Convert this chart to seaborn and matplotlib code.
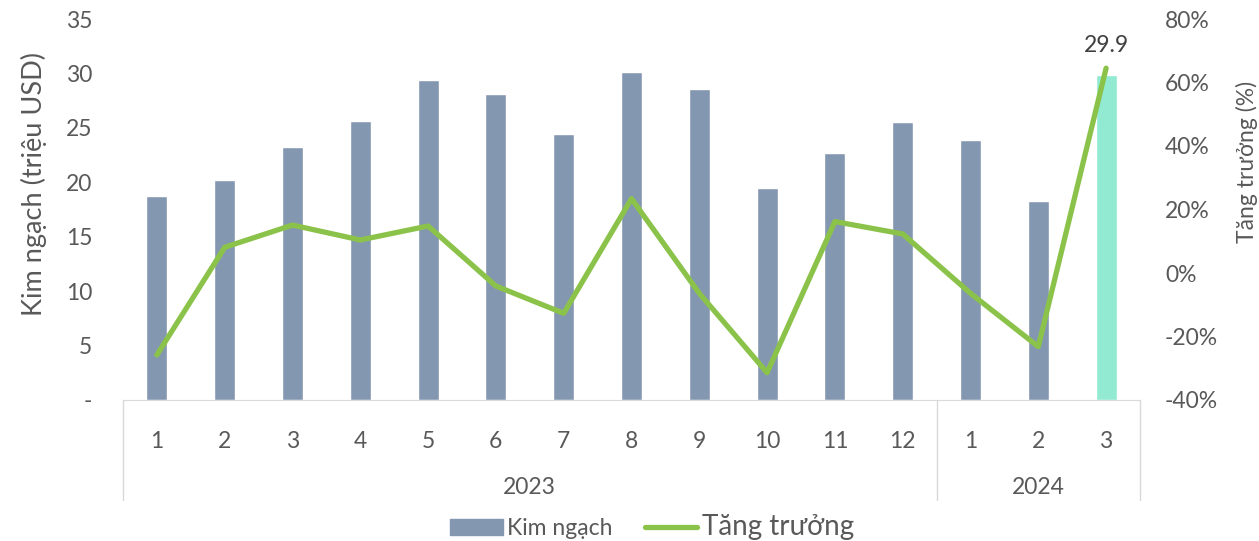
import numpy as np
import pandas as pd
import seaborn as sns
import matplotlib.pyplot as plt
from matplotlib.patches import Patch
from matplotlib.lines import Line2D

# monthly values
months = ["1", "2", "3", "4", "5", "6", "7", "8", "9", "10", "11", "12", "1", "2", "3"]
years = ["2023", "2024"]
kim_ngach = [18.7, 20.2, 23.2, 25.6, 29.4, 28.1, 24.4, 30.1, 28.6, 19.5, 22.7, 25.5, 23.9, 18.3, 29.9]
tang_truong = [-25.8, 8.1, 15.1, 10.4, 14.8, -4.1, -12.7, 23.4, -6.4, -31.4, 16.2, 12.3, -6.4, -23.2, 64.5]

bar_col = "#8497B0"
last_col = "#92EAD2"
line_col = "#8BC34A"
txt_col = "#595959"

sns.set_style("white")
plt.rcParams['font.family'] = ['Lato', 'DejaVu Sans']

df = pd.DataFrame({"idx": np.arange(len(months)), "kn": kim_ngach, "tt": tang_truong})
colors = [bar_col] * (len(months) - 1) + [last_col]

fig = plt.figure(figsize=(12.59, 5.41), dpi=100)
ax = fig.add_axes([123/1259, 1 - 400/541, (1140-123)/1259, (400-19)/541])
sns.barplot(data=df, x="idx", y="kn", hue="idx", palette=colors, width=0.31,
            legend=False, saturation=1, ax=ax)
ax.set_ylim(0, 35)
ax.set_xlim(-0.5, 14.5)
ax.set_yticks(np.arange(0, 36, 5))
ax.set_yticklabels(["-"] + [str(v) for v in range(5, 36, 5)])
ax.set_xticks(df.idx)
ax.set_xticklabels(months)
ax.tick_params(axis="both", length=0, labelsize=16.5, colors=txt_col)
ax.tick_params(axis="x", pad=22)
ax.tick_params(axis="y", pad=22)
ax.set_xlabel("")
ax.set_ylabel("Kim ngạch (triệu USD)", fontsize=19.5, color=txt_col)
ax.yaxis.set_label_coords(-0.075, 0.567)
for s in ["top", "right", "left"]:
    ax.spines[s].set_visible(False)
ax.spines["bottom"].set_color("#D9D9D9")

# year group lines and labels
tr = ax.get_xaxis_transform()
for xv in [-0.5, 11.5, 14.5]:
    ax.plot([xv, xv], [0, -0.262], color="#D9D9D9", lw=1, transform=tr, clip_on=False)
ax.text(5.5, -(487-400)/381, years[0], transform=tr, ha="center", va="center", fontsize=16.5, color=txt_col)
ax.text(13, -(487-400)/381, years[1], transform=tr, ha="center", va="center", fontsize=16.5, color=txt_col)

ax2 = ax.twinx()
sns.lineplot(data=df, x="idx", y="tt", color=line_col, lw=3.8, ax=ax2,
             solid_capstyle="round", solid_joinstyle="round")
ax2.set_ylim(-40, 80)
ax2.set_yticks(np.arange(-40, 81, 20))
ax2.set_yticklabels([f"{v}%" for v in range(-40, 81, 20)])
ax2.tick_params(axis="y", length=0, labelsize=16.5, colors=txt_col, pad=18)
ax2.set_ylabel("Tăng trưởng (%)", fontsize=16.5, color=txt_col)
ax2.yaxis.set_label_coords(1.094, 0.625)
for s in ax2.spines.values():
    s.set_visible(False)
ax.set_xlim(-0.5, 14.5)

ax.annotate(f"{kim_ngach[-1]}", (14, kim_ngach[-1]), xytext=(0, 21), textcoords="offset points",
            ha="center", va="center", fontsize=16.5, color="#404040")

handles = [Patch(color=bar_col), Line2D([0], [0], color=line_col, lw=3.8, solid_capstyle="round")]
leg = fig.legend(handles, ["Kim ngạch", "Tăng trưởng"], loc="center", ncol=2, frameon=False,
                 bbox_to_anchor=(652/1259, 1 - 527/541), fontsize=16.5, handlelength=2.3,
                 columnspacing=1.4, handletextpad=0.2)
for t in leg.get_texts():
    t.set_color(txt_col)
leg.get_texts()[1].set_fontsize(20)

fig.savefig("out.png", dpi=100)
